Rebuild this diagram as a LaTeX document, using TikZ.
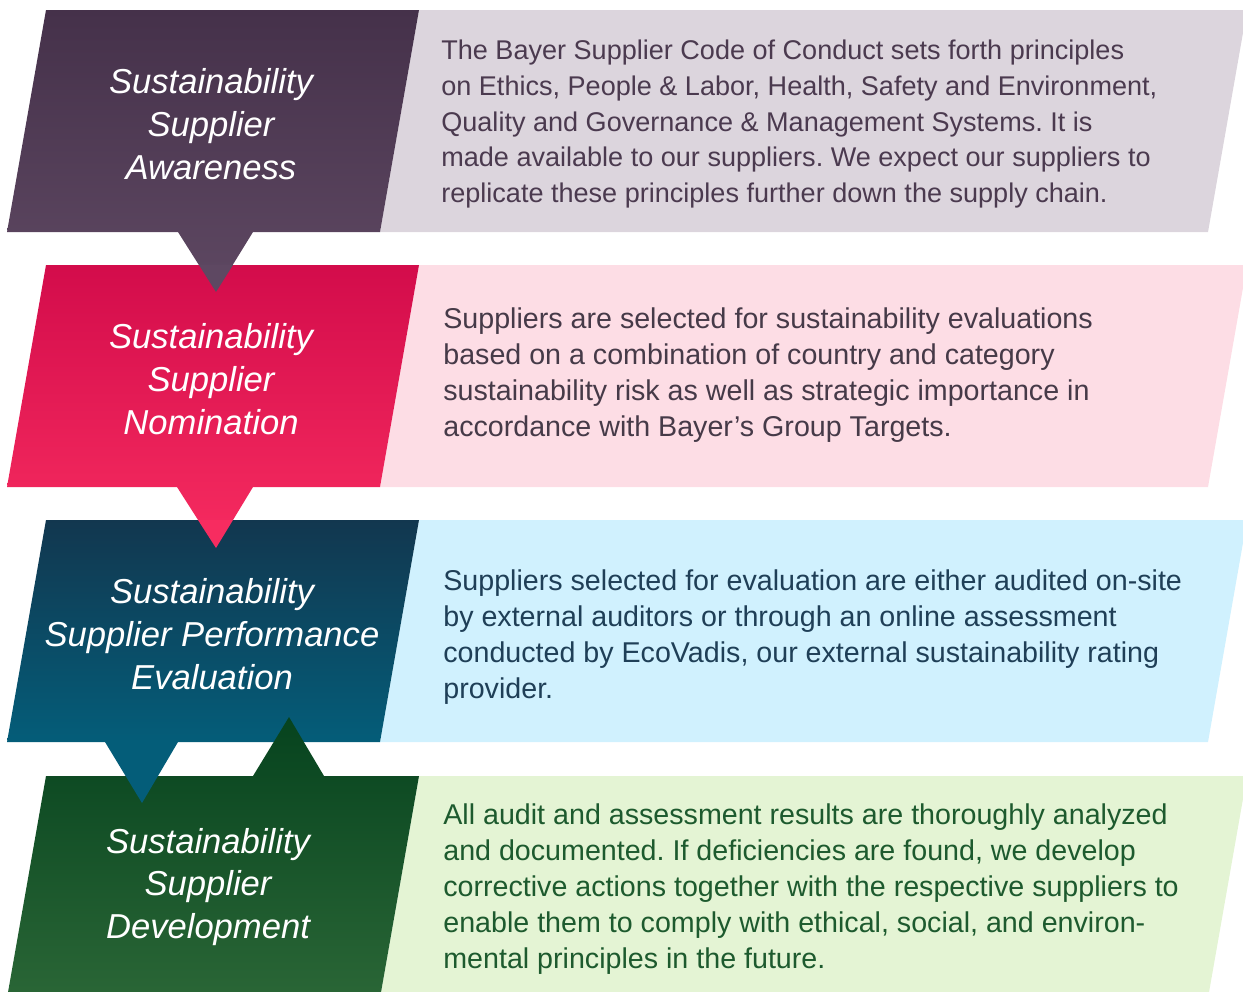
\documentclass[tikz,border=0pt]{standalone}
\usepackage{fontspec}
\setmainfont{Liberation Sans}
\frenchspacing

\definecolor{awareTop}{HTML}{45314A}
\definecolor{awareBot}{HTML}{5E4862}
\definecolor{awareLight}{HTML}{DCD5DD}
\definecolor{awareText}{HTML}{4B3A4F}
\definecolor{nomTop}{HTML}{D30C4B}
\definecolor{nomBot}{HTML}{F72C60}
\definecolor{nomLight}{HTML}{FDDDE5}
\definecolor{nomText}{HTML}{463A48}
\definecolor{evalTop}{HTML}{12374F}
\definecolor{evalBot}{HTML}{045D79}
\definecolor{evalLight}{HTML}{D0F1FE}
\definecolor{evalText}{HTML}{1F3F57}
\definecolor{devTop}{HTML}{06431E}
\definecolor{devBot}{HTML}{2A6636}
\definecolor{devLight}{HTML}{E4F4D4}
\definecolor{devText}{HTML}{1D5A2E}

\begin{document}
\begin{tikzpicture}[x=0.02cm, y=-0.02cm,
    title/.style={text=white, align=center, inner sep=0pt,
      font=\fontsize{19.7}{24.4}\selectfont\itshape},
    body/.style={anchor=west, align=left, inner sep=0pt,
      font=\fontsize{16.3}{20.4}\selectfont},
    small body/.style={body, font=\fontsize{15.4}{20.4}\selectfont}]
    \clip (0,0) rectangle (1243,991);

    % Awareness
    \fill[awareLight] (419,10) -- (1247,10) -- (1208,232) -- (380,232) -- cycle;
    \shade[top color=awareTop, bottom color=awareBot]
        (46,10) -- (419,10) -- (380,232) -- (253,232) -- (216,292) -- (178,232) -- (7,232) -- cycle;

    % Nomination
    \fill[nomLight] (419,265) -- (1247,265) -- (1208,487) -- (380,487) -- cycle;
    \shade[top color=nomTop, bottom color=nomBot]
        (46,265) -- (419,265) -- (380,487) -- (253,487) -- (216,548) -- (177,487) -- (7,487) -- cycle;
    \fill[awareBot] (199,265) -- (233,265) -- (216,292) -- cycle;

    % Performance evaluation
    \fill[evalLight] (419,520) -- (1247,520) -- (1208,742) -- (380,742) -- cycle;
    \shade[top color=evalTop, bottom color=evalBot]
        (46,520) -- (419,520) -- (380,742) -- (7,742) -- cycle;
    \fill[nomBot] (198,520) -- (233,520) -- (216,548) -- cycle;

    % Development, with the feedback tip pointing up
    \fill[devLight] (419,776) -- (1247,776) -- (1208,998) -- (380,998) -- cycle;
    \shade[top color=devTop, bottom color=devBot]
        (46,776) -- (253,776) -- (289,717) -- (324,776) -- (419,776) -- (380,998) -- (7,998) -- cycle;
    \fill[evalBot] (105,742) -- (178,742) -- (142,803) -- cycle;

    \node[title] (awareness) at (211,124) {Sustainability\\Supplier\\Awareness};
    \node[small body, text=awareText] (awarenessText) at (441,124)
        {The Bayer Supplier Code of Conduct sets forth principles\\
         on Ethics, People \& Labor, Health, Safety and Environment,\\
         Quality and Governance \& Management Systems. It is\\
         made available to our suppliers. We expect our suppliers to\\
         replicate these principles further down the supply chain.};

    \node[title] (nomination) at (211,379) {Sustainability\\Supplier\\Nomination};
    \node[body, text=nomText] (nominationText) at (443,375)
        {Suppliers are selected for sustainability evaluations\\
         based on a combination of country and category\\
         sustainability risk as well as strategic importance in\\
         accordance with Bayer’s Group Targets.};

    \node[title] (evaluation) at (212,634) {Sustainability\\Supplier Performance\\Evaluation};
    \node[body, text=evalText] (evaluationText) at (443,637)
        {Suppliers selected for evaluation are either audited on-site\\
         by external auditors or through an online assessment\\
         conducted by EcoVadis, our external sustainability rating\\
         provider.};

    \node[title] (development) at (208,887) {Sustainability\\Supplier\\Development};
    \node[body, text=devText] (developmentText) at (443,889)
        {All audit and assessment results are thoroughly analyzed\\
         and documented. If deficiencies are found, we develop\\
         corrective actions together with the respective suppliers to\\
         enable them to comply with ethical, social, and environ-\\
         mental principles in the future.};
\end{tikzpicture}
\end{document}
